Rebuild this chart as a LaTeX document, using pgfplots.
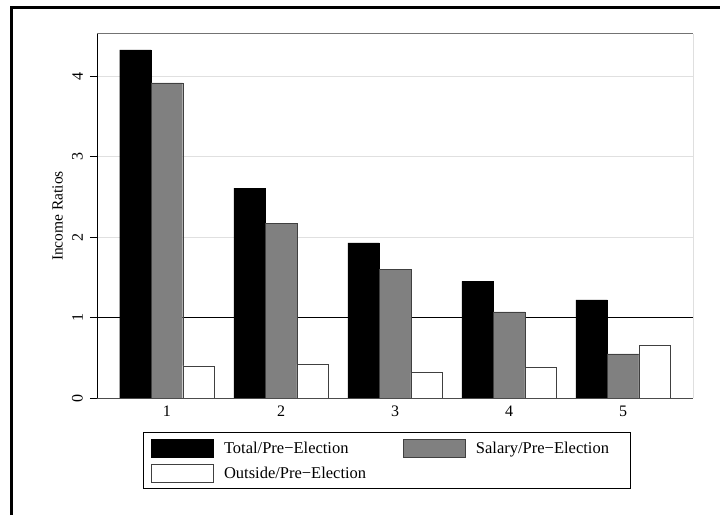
\documentclass[border=0pt]{standalone}
\usepackage{pgfplots}
\pgfplotsset{compat=1.18}
\usepackage{fontspec}
\setmainfont{Liberation Serif}
\definecolor{gridc}{RGB}{224,224,224}
\definecolor{barg}{RGB}{128,128,128}
\begin{document}
\begin{tikzpicture}[x=1pt,y=1pt]
\path[use as bounding box] (0,0) rectangle (720,515);
\draw[line width=2.6pt] (11.5,0) -- (11.5,507.2) -- (720,507.2);
\begin{axis}[
  at={(97pt,117pt)}, anchor=south west,
  scale only axis, width=596pt, height=364pt,
  xmin=0.386, xmax=5.614, ymin=0, ymax=4.527,
  axis line style={draw=none},
  ybar=0pt, bar width=31.5pt,
  xtick={1,2,3,4,5},
  ytick={0,1,2,3,4},
  xtick pos=bottom, ytick pos=left,
  tick align=outside,
  major tick length=7pt,
  xtick style={draw=none},
  ytick style={black, line width=0.8pt},
  ymajorgrids,
  major grid style={gridc, line width=1pt},
  /pgf/number format/assume math mode=true,
  tick label style={font=\fontsize{16}{19}\selectfont},
  yticklabel style={rotate=90, anchor=south, inner sep=0pt},
  yticklabel shift=7pt,
  xticklabel style={anchor=north, inner sep=0pt},
  xticklabel shift=1pt,
  ylabel={Income Ratios},
  ylabel style={at={(axis description cs:-0.0663,0.5)}, anchor=center, font=\fontsize{15.5}{18}\selectfont},
  legend columns=2,
  legend image code/.code={\draw[#1,line width=0.8pt] (0pt,-9pt) rectangle (62pt,9pt);},
  legend style={at={(axis description cs:0.0906,-0.1126)}, anchor=north west,
    draw=none, fill=none, inner sep=0pt, row sep=6pt,
    font=\fontsize{16.5}{19}\selectfont,
    nodes={inner sep=0pt},
    /tikz/every odd column/.append style={column sep=10pt},
    /tikz/every even column/.append style={column sep=37pt}},
  legend cell align=left,
]
\draw[black, line width=1.2pt] (axis cs:0.386,1) -- (axis cs:5.614,1);
\addplot[fill=black, draw=black] coordinates {(1,4.33) (2,2.61) (3,1.93) (4,1.45) (5,1.22)};
\addplot[fill=barg, draw=black!75] coordinates {(1,3.92) (2,2.17) (3,1.60) (4,1.07) (5,0.55)};
\addplot[fill=white, draw=black!75] coordinates {(1,0.40) (2,0.42) (3,0.32) (4,0.38) (5,0.66)};
\legend{Total/Pre−Election, Salary/Pre−Election, Outside/Pre−Election}
\draw[black!55, line width=1pt] (rel axis cs:0,1) -- (rel axis cs:1,1);
\draw[black, line width=0.8pt] (rel axis cs:1,1) -- (rel axis cs:1,0);
\draw[black!70, line width=1pt] (rel axis cs:0,0) -- (rel axis cs:1,0);
\draw[black, line width=0.8pt] (rel axis cs:0,0) -- (rel axis cs:0,1);
\end{axis}
\draw[line width=0.8pt] (143,27) rectangle (630,83);
\end{tikzpicture}
\end{document}
